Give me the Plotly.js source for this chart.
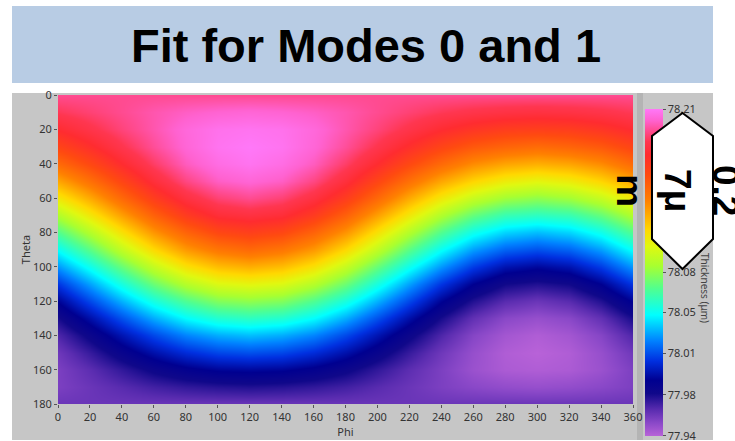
<!DOCTYPE html>
<html>
<head>
<meta charset="utf-8">
<script src="https://cdn.plot.ly/plotly-3.0.1.min.js"></script>
<style>
  html, body { margin: 0; padding: 0; background: #ffffff; }
  #chart { width: 735px; height: 441px; }
</style>
</head>
<body>
<div id="chart"></div>
<script>
// ---- data ----
const chartTitle = 'Fit for Modes 0 and 1';
const phi = [0, 20, 40, 60, 80, 100, 120, 140, 160, 180, 200, 220, 240, 260, 280, 300, 320, 340, 360];
const theta = [0, 10, 20, 30, 40, 50, 60, 70, 80, 90, 100, 110, 120, 130, 140, 150, 160, 170, 180];
const thickness = [
  [78.196, 78.196, 78.196, 78.196, 78.196, 78.196, 78.196, 78.196, 78.196, 78.196, 78.196, 78.196, 78.196, 78.196, 78.196, 78.196, 78.196, 78.196, 78.196],
  [78.188, 78.192, 78.196, 78.200, 78.203, 78.205, 78.206, 78.205, 78.203, 78.200, 78.196, 78.192, 78.188, 78.185, 78.183, 78.182, 78.183, 78.185, 78.188],
  [78.177, 78.185, 78.193, 78.200, 78.207, 78.211, 78.212, 78.211, 78.207, 78.200, 78.193, 78.185, 78.177, 78.171, 78.167, 78.166, 78.167, 78.171, 78.177],
  [78.163, 78.174, 78.186, 78.197, 78.206, 78.212, 78.214, 78.212, 78.206, 78.197, 78.186, 78.174, 78.163, 78.154, 78.149, 78.146, 78.149, 78.154, 78.163],
  [78.147, 78.161, 78.176, 78.190, 78.202, 78.209, 78.212, 78.209, 78.202, 78.190, 78.176, 78.161, 78.147, 78.135, 78.128, 78.125, 78.128, 78.135, 78.147],
  [78.128, 78.145, 78.163, 78.180, 78.194, 78.203, 78.206, 78.203, 78.194, 78.180, 78.163, 78.145, 78.128, 78.115, 78.106, 78.102, 78.106, 78.115, 78.128],
  [78.108, 78.127, 78.148, 78.167, 78.182, 78.192, 78.196, 78.192, 78.182, 78.167, 78.148, 78.127, 78.108, 78.093, 78.083, 78.079, 78.083, 78.093, 78.108],
  [78.087, 78.108, 78.130, 78.151, 78.168, 78.179, 78.182, 78.179, 78.168, 78.151, 78.130, 78.108, 78.087, 78.070, 78.059, 78.056, 78.059, 78.070, 78.087],
  [78.066, 78.088, 78.111, 78.133, 78.150, 78.162, 78.166, 78.162, 78.150, 78.133, 78.111, 78.088, 78.066, 78.048, 78.037, 78.033, 78.037, 78.048, 78.066],
  [78.045, 78.067, 78.091, 78.113, 78.131, 78.142, 78.147, 78.142, 78.131, 78.113, 78.091, 78.067, 78.045, 78.027, 78.016, 78.012, 78.016, 78.027, 78.045],
  [78.026, 78.047, 78.070, 78.092, 78.110, 78.121, 78.125, 78.121, 78.110, 78.092, 78.070, 78.047, 78.026, 78.008, 77.996, 77.992, 77.996, 78.008, 78.026],
  [78.007, 78.028, 78.050, 78.071, 78.088, 78.099, 78.102, 78.099, 78.088, 78.071, 78.050, 78.028, 78.007, 77.990, 77.979, 77.976, 77.979, 77.990, 78.007],
  [77.991, 78.011, 78.031, 78.050, 78.065, 78.076, 78.079, 78.076, 78.065, 78.050, 78.031, 78.011, 77.991, 77.976, 77.966, 77.962, 77.966, 77.976, 77.991],
  [77.978, 77.995, 78.013, 78.030, 78.044, 78.053, 78.056, 78.053, 78.044, 78.030, 78.013, 77.995, 77.978, 77.964, 77.955, 77.952, 77.955, 77.964, 77.978],
  [77.968, 77.982, 77.997, 78.011, 78.023, 78.030, 78.033, 78.030, 78.023, 78.011, 77.997, 77.982, 77.968, 77.956, 77.949, 77.946, 77.949, 77.956, 77.968],
  [77.961, 77.972, 77.984, 77.995, 78.004, 78.010, 78.012, 78.010, 78.004, 77.995, 77.984, 77.972, 77.961, 77.952, 77.946, 77.944, 77.946, 77.952, 77.961],
  [77.958, 77.965, 77.973, 77.981, 77.987, 77.991, 77.992, 77.991, 77.987, 77.981, 77.973, 77.965, 77.958, 77.951, 77.947, 77.946, 77.947, 77.951, 77.958],
  [77.958, 77.962, 77.966, 77.970, 77.973, 77.975, 77.976, 77.975, 77.973, 77.970, 77.966, 77.962, 77.958, 77.955, 77.953, 77.952, 77.953, 77.955, 77.958],
  [77.962, 77.962, 77.962, 77.962, 77.962, 77.962, 77.962, 77.962, 77.962, 77.962, 77.962, 77.962, 77.962, 77.962, 77.962, 77.962, 77.962, 77.962, 77.962]
];
const zMin = 77.944;
const zMax = 78.214;
const cbTickVals = [77.9442, 77.978, 78.012, 78.046, 78.079, 78.113, 78.147, 78.181, 78.2138];
const cbTickText = ['77.94', '77.98', '78.01', '78.05', '78.08', '78.11', '78.15', '78.18', '78.21'];
const xTicks = [0, 20, 40, 60, 80, 100, 120, 140, 160, 180, 200, 220, 240, 260, 280, 300, 320, 340, 360];
const yTicks = [0, 20, 40, 60, 80, 100, 120, 140, 160, 180];
const cbTitle = 'Thickness (μm)';
const calloutText = '0.2<br>7μ<br>m';

// ---- layout geometry (pixels) ----
const W = 735, H = 441;
const PL = 58, PR = 633, PT = 95, PB = 404;
const px2x = p => (p - PL) / (PR - PL);
const px2y = p => (PB - p) / (PB - PT);

const colorscale = [
  [0.00, '#b862d8'],
  [0.04, '#8a48c8'],
  [0.08, '#5a2cb0'],
  [0.13, '#10088a'],
  [0.17, '#000090'],
  [0.23, '#0030e0'],
  [0.29, '#0080ff'],
  [0.37, '#00ffff'],
  [0.45, '#50ff90'],
  [0.52, '#a8ff30'],
  [0.58, '#e0f810'],
  [0.63, '#ffd800'],
  [0.72, '#ff8000'],
  [0.80, '#ff4a10'],
  [0.86, '#ff2c30'],
  [0.90, '#ff3650'],
  [0.935, '#ff4c94'],
  [0.965, '#ff62d0'],
  [1.00, '#ff78f8']
];

const tickFont = { family: 'Noto Sans, Open Sans, sans-serif', size: 11, color: '#333333' };

const data = [{
  type: 'heatmap',
  x: phi,
  y: theta,
  z: thickness,
  zmin: zMin,
  zmax: zMax,
  zsmooth: 'best',
  colorscale: colorscale,
  showscale: true,
  colorbar: {
    x: px2x(645), xanchor: 'left', xref: 'paper',
    y: px2y(109), yanchor: 'top', yref: 'paper',
    len: 327, lenmode: 'pixels',
    thickness: 18, thicknessmode: 'pixels',
    xpad: 0, ypad: 0,
    outlinewidth: 0,
    tickmode: 'array',
    tickvals: cbTickVals,
    ticktext: cbTickText,
    ticklabeloverflow: 'allow',
    ticks: 'outside', ticklen: 3, tickcolor: '#555555',
    tickfont: tickFont
  }
}];

const hex = [[682.5, 113], [713, 136], [713, 239], [682.5, 269], [652, 239], [652, 136]];
const hexPath = hex.map((p, i) => (i ? 'L' : 'M') + px2x(p[0]).toFixed(5) + ',' + px2y(p[1]).toFixed(5)).join(' ') + ' Z';

const layout = {
  width: W, height: H,
  margin: { l: PL, r: W - PR, t: PT, b: H - PB, pad: 0, autoexpand: false },
  paper_bgcolor: '#ffffff',
  plot_bgcolor: 'rgba(0,0,0,0)',
  title: {
    text: '<b>' + chartTitle + '</b>',
    font: { family: 'Liberation Sans, Arial, sans-serif', size: 47, color: '#000000' },
    x: 366 / W, xref: 'container', xanchor: 'center',
    y: 1 - 46 / H, yref: 'container', yanchor: 'middle',
    automargin: false
  },
  xaxis: {
    range: [0, 360],
    tickmode: 'array', tickvals: xTicks,
    ticks: 'outside', ticklen: 3, tickcolor: '#555555',
    tickfont: tickFont,
    showgrid: false, zeroline: false, showline: false,
    automargin: false,
    title: { text: 'Phi', font: tickFont, standoff: 0 }
  },
  yaxis: {
    range: [180, 0],
    tickmode: 'array', tickvals: yTicks,
    ticks: 'outside', ticklen: 3, tickcolor: '#555555',
    tickfont: tickFont,
    showgrid: false, zeroline: false, showline: false,
    automargin: false,
    title: { text: 'Theta', font: tickFont, standoff: 0 }
  },
  shapes: [
    { type: 'rect', xref: 'paper', yref: 'paper', layer: 'below',
      x0: px2x(12), x1: px2x(713), y0: px2y(83), y1: px2y(6),
      fillcolor: '#b8cce4', line: { width: 0 } },
    { type: 'rect', xref: 'paper', yref: 'paper', layer: 'below',
      x0: px2x(12), x1: px2x(713), y0: px2y(440), y1: px2y(93),
      fillcolor: '#c6c6c6', line: { width: 0 } },
    { type: 'rect', xref: 'paper', yref: 'paper', layer: 'below',
      x0: px2x(637), x1: px2x(643), y0: px2y(440), y1: px2y(93),
      fillcolor: '#b4b4b4', line: { width: 0 } },
    { type: 'path', xref: 'paper', yref: 'paper', layer: 'above',
      path: hexPath, fillcolor: '#ffffff', line: { color: '#000000', width: 2 } }
  ],
  annotations: [
    { text: cbTitle, xref: 'paper', yref: 'paper', x: px2x(705), y: px2y(288),
      xanchor: 'center', yanchor: 'middle', textangle: 90, showarrow: false,
      font: { family: 'Noto Sans, Open Sans, sans-serif', size: 10, color: '#444444' } },
    { text: '<b>' + calloutText + '</b>', xref: 'paper', yref: 'paper', x: px2x(678), y: px2y(190),
      xanchor: 'center', yanchor: 'middle', textangle: 90, showarrow: false,
      font: { family: 'Liberation Sans, DejaVu Sans, sans-serif', size: 37, color: '#000000' } }
  ]
};

const gd = document.getElementById('chart');
Plotly.newPlot(gd, data, layout, { staticPlot: true, displayModeBar: false }).then(() => {
  // put the callout hexagon and its text on top of the colour bar, as in the slide
  gd.querySelectorAll('svg.main-svg').forEach(svg => {
    Array.from(svg.children)
      .filter(el => el.classList && el.classList.contains('layer-above'))
      .forEach(el => {
        svg.appendChild(el);
        gd.querySelectorAll('.annotation').forEach(a => {
          if (a.textContent.indexOf('7μ') >= 0) svg.appendChild(a);
        });
      });
  });
});
</script>
</body>
</html>
